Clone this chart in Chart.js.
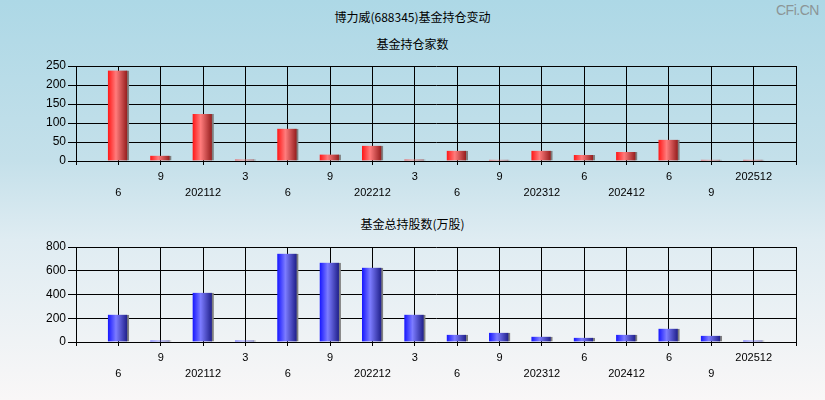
<!DOCTYPE html>
<html>
<head>
<meta charset="utf-8">
<script src="https://cdn.jsdelivr.net/npm/chart.js@4/dist/chart.umd.min.js"></script>
<style>
  html, body { margin: 0; padding: 0; }
  body {
    width: 825px; height: 400px; position: relative; overflow: hidden;
    background: linear-gradient(to bottom, #add8e6 0%, #c4e0ea 40%, #dfecf2 60%, #f9f7f7 100%);
    font-family: "Noto Sans CJK SC", "Liberation Sans", sans-serif;
  }
  .t { position: absolute; left: 0; width: 825px; text-align: center; font-size: 12px; color: #000; line-height: 14px; }
  #wm { position: absolute; left: 776px; top: 2px; font: 14px "Liberation Sans", Arial, sans-serif; color: #8c9596; letter-spacing: -0.5px; }
  canvas { position: absolute; left: 0; }
</style>
</head>
<body>
<div class="t" style="top:10px">博力威(688345)基金持仓变动</div>
<div class="t" style="top:37px">基金持仓家数</div>
<div class="t" style="top:217px">基金总持股数(万股)</div>
<div id="wm">CFi.CN</div>
<div style="position:absolute;left:0;top:0;width:825px;height:200px"><canvas id="c1"></canvas></div>
<div style="position:absolute;left:0;top:200px;width:825px;height:200px"><canvas id="c2"></canvas></div>
<script>
// Reporting periods (categories)
const periods = ['2021-06','2021-09','2021-12','2022-03','2022-06','2022-09','2022-12','2023-03',
                 '2023-06','2023-09','2023-12','2024-06','2024-12','2025-06','2025-09','2025-12'];
// Tick labels as shown under the axis
const tickLabels = ['6','9','202112','3','6','9','202212','3','6','9','202312','6','202412','6','9','202512'];
// Number of funds holding
const fundCount = [238, 14, 124, 4, 85, 17, 40, 4, 27, 3, 27, 16, 24, 56, 3, 3];
// Total shares held by funds (10k shares)
const fundShares = [230, 12, 415, 12, 744, 668, 626, 230, 61, 78, 45, 36, 61, 112, 53, 12];
// Y axis ticks
const countTicks = { max: 250, step: 50 };
const sharesTicks = { max: 800, step: 200 };

const labels = ['', ...periods, ''];

function makeGradient(ctx, stops) {
  const chart = ctx.chart;
  const xs = chart.scales && chart.scales.x;
  if (!xs || ctx.type !== 'data') return stops[0];
  const cx = xs.getPixelForValue(ctx.dataIndex);
  if (!isFinite(cx)) return stops[0];
  const g = chart.ctx.createLinearGradient(cx - 10, 0, cx + 10, 0);
  g.addColorStop(0, stops[0]);
  g.addColorStop(0.38, stops[1]);
  g.addColorStop(1, stops[2]);
  return g;
}

function build(id, values, yt, axisH, padTop, stops) {
  const data = [null, ...values, null];
  return new Chart(document.getElementById(id), {
    type: 'bar',
    data: {
      labels: labels,
      datasets: [{
        data: data,
        barThickness: 21,
        backgroundColor: (c) => makeGradient(c, stops),
        borderColor: '#7f7f7f',
        borderWidth: { right: 2, left: 0, top: 0, bottom: 0 },
        borderSkipped: false
      }]
    },
    options: {
      responsive: true,
      maintainAspectRatio: false,
      animation: false,
      events: [],
      layout: { padding: { left: 0, right: 29, top: padTop, bottom: 0 } },
      plugins: { legend: { display: false }, tooltip: { enabled: false }, title: { display: false } },
      scales: {
        x: {
          type: 'category',
          offset: false,
          afterFit: (s) => { s.height = axisH; },
          grid: { display: true, color: '#000', lineWidth: 1, drawTicks: true, tickLength: 4, tickColor: '#000', offset: false },
          border: { display: true, color: '#000', width: 1 },
          ticks: {
            autoSkip: false, maxRotation: 0, minRotation: 0, padding: 4,
            color: '#000',
            font: { family: '"Liberation Sans", Arial, sans-serif', size: 11, lineHeight: 1.43 },
            callback: (v, i) => {
              if (i === 0 || i === labels.length - 1) return '';
              const d = i - 1;
              return d % 2 === 0 ? ['', tickLabels[d]] : tickLabels[d];
            }
          }
        },
        y: {
          min: 0, max: yt.max,
          afterFit: (s) => { s.width = 76; },
          grid: { display: true, color: '#000', lineWidth: 1, drawTicks: true, tickLength: 8, tickColor: '#000' },
          border: { display: true, color: '#000', width: 1 },
          ticks: {
            stepSize: yt.step, padding: 2, color: '#000',
            font: { family: '"Liberation Sans", Arial, sans-serif', size: 12 }
          }
        }
      }
    }
  });
}

build('c1', fundCount, countTicks, 39, 66, ['#ff1c1c', '#ff7c7c', '#8a1414']);
build('c2', fundShares, sharesTicks, 58, 47, ['#1c1cff', '#7c7cff', '#16167e']);
</script>
</body>
</html>
